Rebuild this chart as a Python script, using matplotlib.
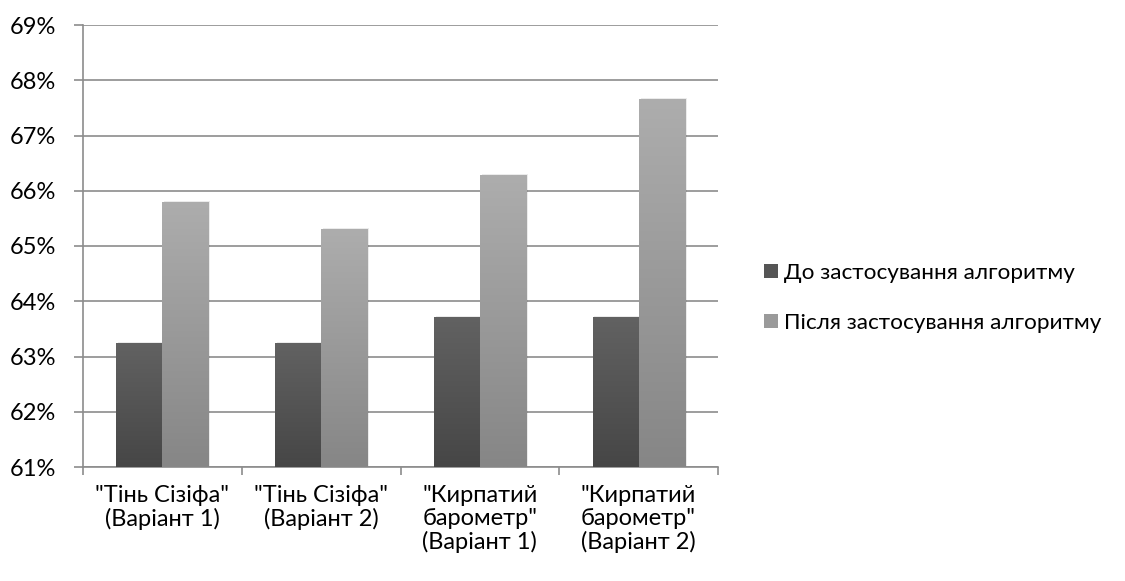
import numpy as np
import matplotlib.pyplot as plt
from matplotlib.patches import Rectangle
from matplotlib.colors import LinearSegmentedColormap
from matplotlib.ticker import FuncFormatter

categories = ['"Тінь Сізіфа"\n(Варіант 1)', '"Тінь Сізіфа"\n(Варіант 2)',
              '"Кирпатий\nбарометр"\n(Варіант 1)', '"Кирпатий\nбарометр"\n(Варіант 2)']
before = [63.25, 63.25, 63.72, 63.72]
after = [65.80, 65.30, 66.28, 67.66]
series_names = ["До застосування алгоритму", "Після застосування алгоритму"]

plt.rcParams["font.family"] = ["Lato", "DejaVu Sans"]
FS = 17

fig = plt.figure(figsize=(11.25, 5.81), dpi=100)
ax = fig.add_axes([83 / 1125, 1 - 467 / 581, 635 / 1125, 442 / 581])

ymin, ymax = 61, 69
x = np.arange(len(categories))
w = 0.29

dark = LinearSegmentedColormap.from_list("d", ["#464646", "#626262"])
light = LinearSegmentedColormap.from_list("l", ["#868686", "#adadad"])
grad = np.linspace(0, 1, 256).reshape(-1, 1)


def gradient_bar(x0, height, cmap):
    # soft shadow behind the bar
    ax.add_patch(Rectangle((x0 + 0.012, ymin), w, height - ymin + 0.02,
                           facecolor="#000000", alpha=0.08, edgecolor="none", zorder=2))
    rect = Rectangle((x0, ymin), w, height - ymin, facecolor="none",
                     edgecolor="none", zorder=3)
    ax.add_patch(rect)
    im = ax.imshow(grad, cmap=cmap, origin="lower", aspect="auto",
                   extent=[x0, x0 + w, ymin, height], zorder=3)
    im.set_clip_path(rect)


for i in x:
    gradient_bar(i - w, before[i], dark)
    gradient_bar(i, after[i], light)

ax.set_xlim(-0.5, len(categories) - 0.5)
ax.set_ylim(ymin, ymax)
ax.set_yticks(np.arange(61, 70, 1))
ax.yaxis.set_major_formatter(FuncFormatter(lambda v, p: f"{v:.0f}%"))
ax.grid(axis="y", color="#8c8c8c", linewidth=1.2, zorder=0)
ax.set_axisbelow(True)

ax.set_xticks(np.arange(-0.5, len(categories), 1))
ax.set_xticklabels([])
ax.set_xticks(x, minor=True)
ax.set_xticklabels(categories, minor=True, fontsize=FS, va="top", ha="center",
                   linespacing=1.1)
ax.tick_params(axis="x", which="minor", length=0, pad=13)
ax.tick_params(axis="x", which="major", length=6, color="#8c8c8c", width=1.2)
ax.tick_params(axis="y", length=6.5, color="#8c8c8c", width=1.2, labelsize=FS, pad=13)

for s in ["top", "right"]:
    ax.spines[s].set_visible(False)
for s in ["left", "bottom"]:
    ax.spines[s].set_color("#8c8c8c")
    ax.spines[s].set_linewidth(1.2)

handles = [Rectangle((0, 0), 1, 1, facecolor="#555555"),
           Rectangle((0, 0), 1, 1, facecolor="#9a9a9a")]
fig.legend(handles, series_names, loc="center left", bbox_to_anchor=(744 / 1125, 1 - 298 / 581),
           frameon=False, fontsize=16.2, handlelength=0.6, handleheight=0.6,
           handletextpad=0.3, labelspacing=1.35)

fig.savefig("out.png", dpi=100)
